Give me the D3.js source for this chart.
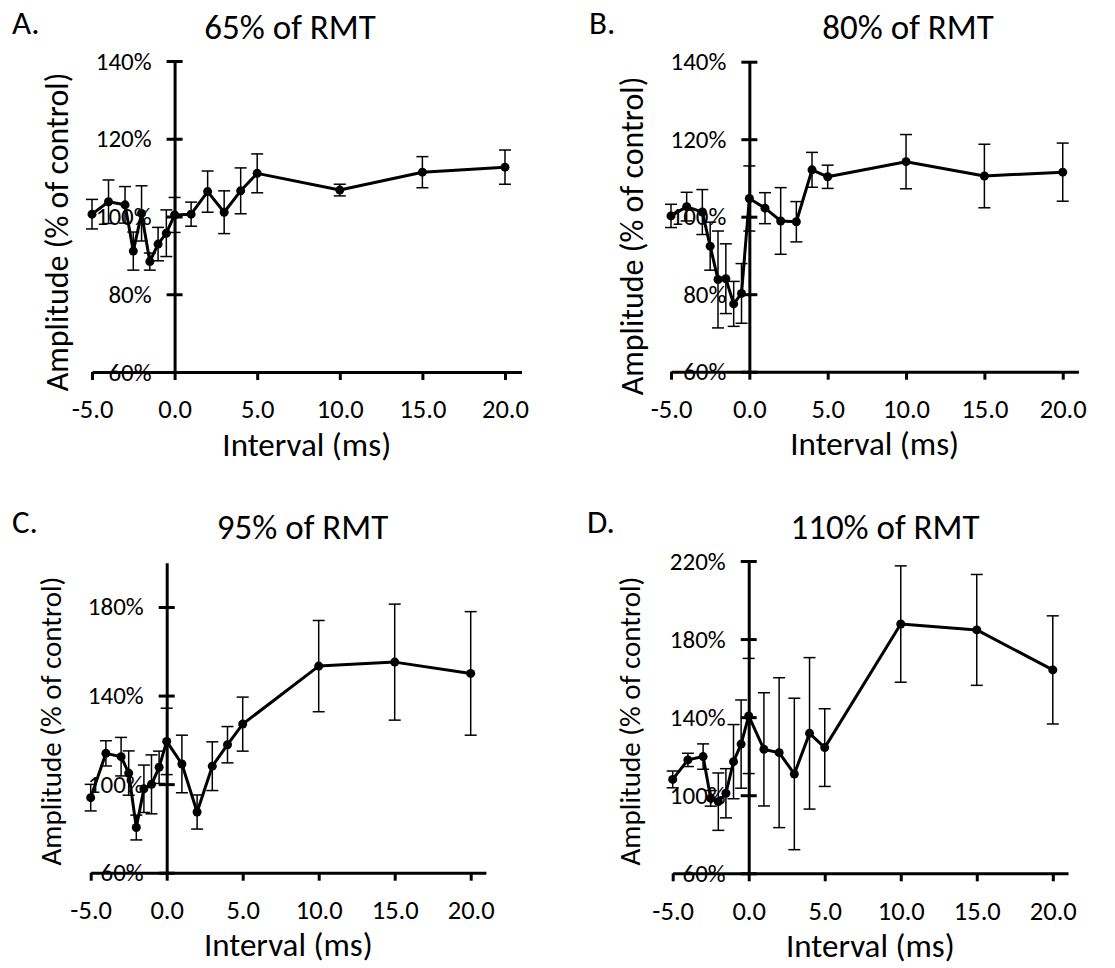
<!DOCTYPE html>
<html>
<head>
<meta charset="utf-8">
<script src="https://cdn.jsdelivr.net/npm/d3@7"></script>
<style>
  body { margin: 0; background: #fff; }
  svg { display: block; }
  text { font-family: Carlito, Lato, "Open Sans", sans-serif; fill: #000; }
</style>
</head>
<body>
<svg width="1115" height="968"></svg>
<script>
// interval (ms) between stimuli, same for every panel
var intervals = [-5, -4, -3, -2.5, -2, -1.5, -1, -0.5, 0, 1, 2, 3, 4, 5, 10, 15, 20];

// mean amplitude (% of control) and error
var meanA = [100.6, 103.8, 103.0, 91.1, 100.8, 88.4, 92.9, 95.7, 100.4, 100.6, 106.4, 101.1, 106.6, 111.1, 106.8, 111.4, 112.7];
var errA  = [3.8, 5.6, 4.7, 4.9, 7.1, 2.2, 4.3, 6.0, 4.5, 3.1, 5.3, 5.5, 5.9, 5.0, 1.5, 4.0, 4.4];

var meanB = [100.2, 102.6, 101.2, 92.4, 83.8, 84.0, 77.5, 80.2, 104.7, 102.2, 98.9, 98.7, 112.1, 110.3, 114.2, 110.5, 111.5];
var errB  = [3.0, 3.7, 5.8, 6.2, 12.5, 9.0, 5.8, 7.7, 8.4, 4.0, 8.6, 5.2, 4.5, 3.0, 7.0, 8.2, 7.5];

var meanC = [93.9, 113.9, 112.4, 105.0, 80.4, 97.9, 99.9, 107.6, 119.3, 109.1, 87.4, 108.1, 117.8, 127.1, 153.3, 155.1, 150.0];
var errC  = [6.0, 5.7, 8.7, 10.0, 5.6, 10.7, 13.3, 7.3, 15.0, 13.0, 7.7, 11.0, 8.2, 12.2, 20.6, 26.2, 27.9];

var meanD = [108.1, 118.1, 119.8, 98.4, 96.7, 101.0, 117.2, 126.2, 140.6, 123.5, 121.8, 110.9, 131.7, 124.4, 187.7, 184.7, 164.2];
var errD  = [4.3, 3.4, 6.5, 4.0, 14.7, 12.6, 19.0, 22.6, 29.5, 29.0, 38.4, 38.8, 38.8, 19.9, 29.8, 28.4, 27.7];

// tick labels
var xTicks = [-5, 0, 5, 10, 15, 20];
var yTicksAB = [60, 80, 100, 120, 140];
var yTicksC = [60, 100, 140, 180];
var yTicksD = [60, 100, 140, 180, 220];

var letters = ["A.", "B.", "C.", "D."];
var titles = ["65% of RMT", "80% of RMT", "95% of RMT", "110% of RMT"];
var xTitle = "Interval (ms)";
var yTitle = "Amplitude (% of control)";

// panel frames (pixel positions only)
var panels = [
  {mean: meanA, err: errA, ticks: yTicksAB, ymax: 140, x0: 92,    x1: 521.5,  top: 61,    bot: 372,   tx: 290,   ty: 39,  lx: 12,  ly: 34,  yx: 57,  yy: 232, ys: 32},
  {mean: meanB, err: errB, ticks: yTicksAB, ymax: 140, x0: 671,   x1: 1078.4, top: 61.7,  bot: 371.7, tx: 908,   ty: 39,  lx: 589, ly: 34,  yx: 632, yy: 236, ys: 32},
  {mean: meanC, err: errC, ticks: yTicksC,  ymax: 200, x0: 90.7,  x1: 485.9,  top: 562.7, bot: 872.7, tx: 302.5, ty: 539, lx: 12,  ly: 533, yx: 51,  yy: 721, ys: 29},
  {mean: meanD, err: errD, ticks: yTicksD,  ymax: 220, x0: 672.7, x1: 1068,   top: 561,   bot: 873.3, tx: 885,   ty: 539, lx: 587, ly: 533, yx: 630, yy: 721, ys: 29}
];

var svg = d3.select("svg");

panels.forEach(function(p, i) {
  var x = d3.scaleLinear().domain([-5, 21]).range([p.x0, p.x1]),
      y = d3.scaleLinear().domain([60, p.ymax]).range([p.bot, p.top]);

  var g = svg.append("g");

  // x axis at the bottom of the plot, ticks pointing down
  var gx = g.append("g")
      .attr("transform", "translate(0," + y(60) + ")")
      .call(d3.axisBottom(x).tickValues(xTicks)
        .tickFormat(function(d) { return d.toFixed(1); })
        .tickSize(8).tickSizeOuter(0));
  gx.select(".domain").attr("stroke-width", 3);
  gx.selectAll(".tick line").attr("stroke-width", 3);
  gx.selectAll(".tick text")
      .attr("y", 37).attr("dy", "0.35em")
      .style("font-size", "26.5px");

  // y axis crosses at interval 0, ticks cross the line
  var gy = g.append("g")
      .attr("transform", "translate(" + x(0) + ",0)")
      .call(d3.axisLeft(y).tickValues(p.ticks)
        .tickFormat(function(d) { return d + "%"; })
        .tickSize(0).tickSizeOuter(0).tickPadding(23));
  gy.select(".domain").attr("stroke-width", 3);
  gy.selectAll(".tick line").attr("x1", -8).attr("x2", 8).attr("stroke-width", 3);
  gy.selectAll(".tick text").style("font-size", "25px");

  var pts = intervals.map(function(t, k) { return {t: t, m: p.mean[k], e: p.err[k]}; });

  // error bars
  var eb = g.append("g").attr("stroke", "#000").attr("stroke-width", 1.5);
  eb.selectAll("line.v").data(pts).enter().append("line")
      .attr("x1", function(d) { return x(d.t); })
      .attr("x2", function(d) { return x(d.t); })
      .attr("y1", function(d) { return y(d.m - d.e); })
      .attr("y2", function(d) { return y(d.m + d.e); });
  [1, -1].forEach(function(s) {
    eb.selectAll(null).data(pts).enter().append("line")
        .attr("x1", function(d) { return x(d.t) - 6; })
        .attr("x2", function(d) { return x(d.t) + 6; })
        .attr("y1", function(d) { return y(d.m + s * d.e); })
        .attr("y2", function(d) { return y(d.m + s * d.e); });
  });

  // mean line and markers
  var line = d3.line()
      .x(function(d) { return x(d.t); })
      .y(function(d) { return y(d.m); });
  g.append("path")
      .datum(pts)
      .attr("fill", "none")
      .attr("stroke", "#000")
      .attr("stroke-width", 3)
      .attr("stroke-linejoin", "round")
      .attr("d", line);
  g.selectAll("circle").data(pts).enter().append("circle")
      .attr("cx", function(d) { return x(d.t); })
      .attr("cy", function(d) { return y(d.m); })
      .attr("r", 4.5);

  // texts
  g.append("text").attr("x", p.tx).attr("y", p.ty)
      .attr("text-anchor", "middle").style("font-size", "35px").text(titles[i]);
  g.append("text").attr("x", p.lx).attr("y", p.ly)
      .style("font-size", "33px").text(letters[i]);
  g.append("text").attr("x", (p.x0 + p.x1) / 2).attr("y", y(60) + 72)
      .attr("dy", "0.35em").attr("text-anchor", "middle")
      .style("font-size", "33px").text(xTitle);
  g.append("text")
      .attr("transform", "translate(" + p.yx + "," + p.yy + ") rotate(-90)")
      .attr("dy", "0.35em").attr("text-anchor", "middle")
      .style("font-size", p.ys + "px").text(yTitle);
});
</script>
</body>
</html>
